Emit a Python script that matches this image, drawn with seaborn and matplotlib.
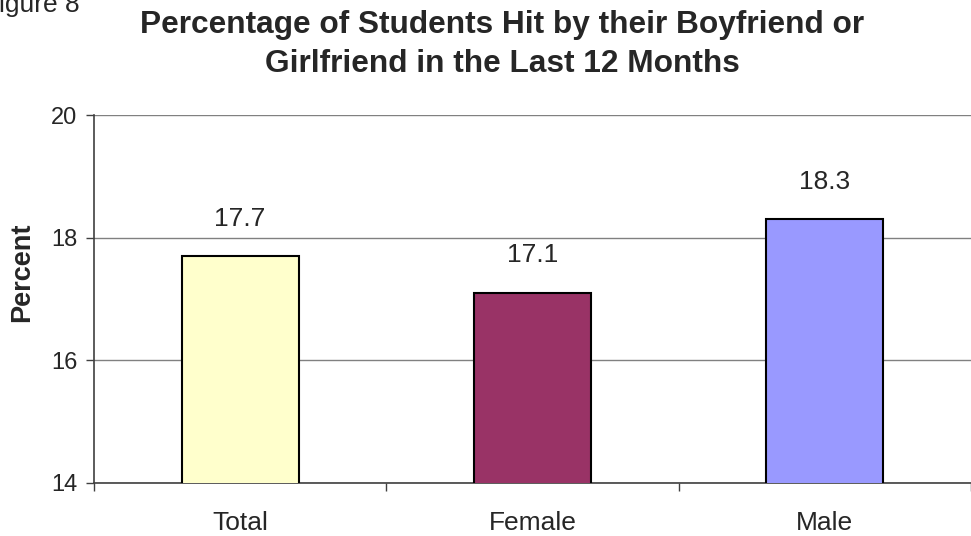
import matplotlib
matplotlib.use('Agg')
import matplotlib.pyplot as plt
import seaborn as sns
import pandas as pd

# Datos
categorias = ['Total', 'Female', 'Male']
porcentajes = [17.7, 17.1, 18.3]
colores = ['#FFFFCC', '#993366', '#9999FF']
yticks = [14, 16, 18, 20]

df = pd.DataFrame({'Grupo': categorias, 'Percent': porcentajes})

sns.set_style('white')
plt.rcParams['font.family'] = ['Liberation Sans', 'DejaVu Sans']

fig = plt.figure(figsize=(9.71, 5.36), dpi=100)
ax = fig.add_axes([0.0968, 0.0989, 0.9032, 0.6865])

sns.barplot(data=df, x='Grupo', y='Percent', hue='Grupo', palette=colores,
            legend=False, width=0.4, edgecolor='black', linewidth=1.5,
            saturation=1, ax=ax, zorder=3)

ax.set_ylim(14, 20)
ax.set_xlim(-0.5, 2.5)
ax.set_yticks(yticks)
ax.yaxis.grid(True, color='#808080', linewidth=1, zorder=0)
ax.set_axisbelow(True)

# etiquetas de valor
for i, v in enumerate(porcentajes):
    ax.annotate(f'{v}', (i, v), xytext=(0, 22), textcoords='offset points',
                ha='center', va='baseline', fontsize=19)

# ticks del eje x entre categorias
ax.set_xticks([-0.5, 0.5, 1.5, 2.5])
ax.set_xticklabels([])
ax.set_xticks([0, 1, 2], minor=True)
ax.set_xticklabels(categorias, minor=True, fontsize=19)
ax.tick_params(axis='x', which='minor', length=0, pad=20)
ax.tick_params(axis='x', which='major', length=6, width=1, color='#404040', direction='out', bottom=True)
ax.tick_params(axis='y', labelsize=17, length=6, width=1, color='#404040', direction='out', left=True, pad=6)

for s in ['top', 'right']:
    ax.spines[s].set_visible(False)
for s in ['left', 'bottom']:
    ax.spines[s].set_color('#404040')
    ax.spines[s].set_linewidth(1.2)

ax.set_xlabel('')
ax.set_ylabel('')
fig.text(22 / 971, 1 - 272 / 536, 'Percent', rotation=90, ha='center', va='center',
         fontsize=19.5, fontweight='bold')

fig.text(0.517, 0.981, 'Percentage of Students Hit by their Boyfriend or\nGirlfriend in the Last 12 Months',
         ha='center', va='top', fontsize=22.8, fontweight='bold', linespacing=1.4)
fig.text(-0.0175, 0.978, 'Figure 8', ha='left', va='baseline', fontsize=19)

fig.savefig('out.png', dpi=100)
